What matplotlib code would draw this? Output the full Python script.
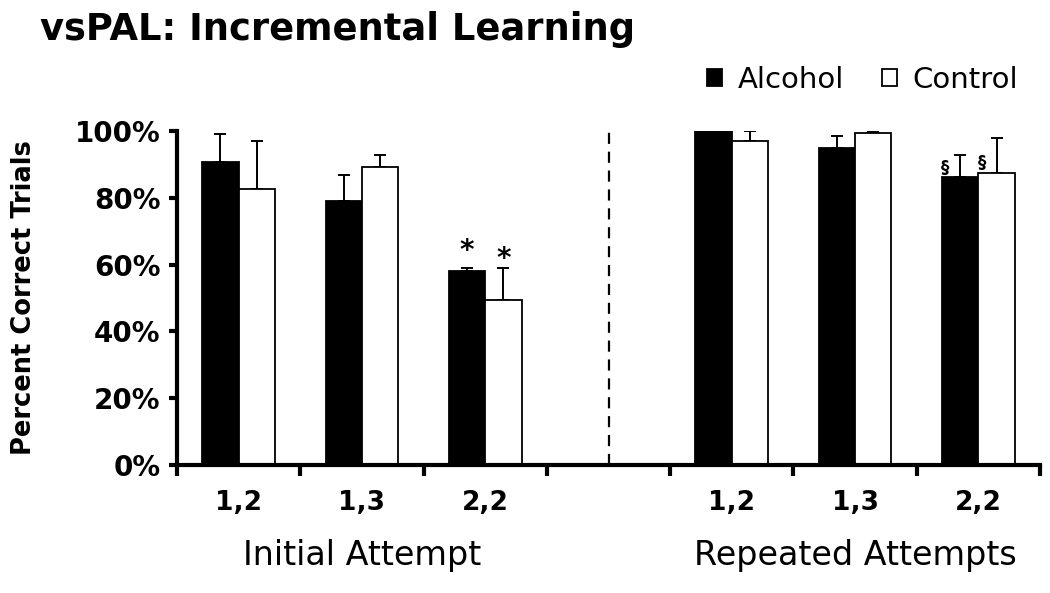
import matplotlib
matplotlib.use("Agg")
import matplotlib.pyplot as plt
import numpy as np

categories = ["1,2", "1,3", "2,2", "", "1,2", "1,3", "2,2"]
cat_pos = [0, 1, 2, 4, 5, 6]
cat_labels = ["1,2", "1,3", "2,2", "1,2", "1,3", "2,2"]
alcohol = [0.908, 0.791, 0.580, 1.000, 0.950, 0.863]
alcohol_err = [0.082, 0.077, 0.011, 0.0, 0.034, 0.065]
control = [0.826, 0.893, 0.493, 0.970, 0.995, 0.873]
control_err = [0.144, 0.035, 0.098, 0.030, 0.003, 0.107]
group_labels = ["Initial Attempt", "Repeated Attempts"]
yticks = [0, 0.2, 0.4, 0.6, 0.8, 1.0]
ytick_labels = ["0%", "20%", "40%", "60%", "80%", "100%"]

fig = plt.figure(figsize=(10.5, 5.93), dpi=100)
ax = fig.add_axes([177/1050, 1-465/593, (1040-177)/1050, (465-131)/593])

x = np.array(cat_pos, dtype=float)
w = 0.295
ax.bar(x - w/2, alcohol, w, color="black", edgecolor="black", linewidth=1.3, label="Alcohol", zorder=2)
ax.bar(x + w/2, control, w, color="white", edgecolor="black", linewidth=1.3, label="Control", zorder=2)
ax.errorbar(x - w/2, alcohol, yerr=[np.zeros(len(x)), alcohol_err], fmt="none",
            ecolor="black", elinewidth=1.4, capsize=4.3, capthick=1.4, zorder=1)
ax.errorbar(x + w/2, control, yerr=[np.zeros(len(x)), control_err], fmt="none",
            ecolor="black", elinewidth=1.4, capsize=4.3, capthick=1.4, zorder=1)

# significance markers
ax.text(2 - w/2, 0.60, "*", ha="center", va="bottom", fontsize=20, fontweight="bold")
ax.text(2 + w/2, 0.575, "*", ha="center", va="bottom", fontsize=20, fontweight="bold")
ax.text(6 - 0.27, 0.89, "§", ha="center", va="center", fontsize=12, fontweight="bold")
ax.text(6 + 0.03, 0.905, "§", ha="center", va="center", fontsize=12, fontweight="bold")

ax.axvline(3, ymin=0, ymax=1.0, color="black", linestyle=(0, (5, 3.5)), linewidth=1.6)

ax.set_xlim(-0.5, 6.5)
ax.set_ylim(0, 1.0)
ax.set_yticks(yticks)
ax.set_yticklabels(ytick_labels, fontsize=20, fontweight="bold")
ax.set_xticks(np.arange(-0.5, 7.0, 1.0))
ax.set_xticklabels([])
ax.set_xticks(x, minor=True)
ax.set_xticklabels(cat_labels, minor=True, fontsize=19, fontweight="bold")
ax.tick_params(axis="x", which="minor", length=0, pad=18)
ax.tick_params(axis="x", which="major", length=8, width=3, direction="out")
ax.tick_params(axis="y", length=6, width=3, direction="out", pad=6)

for s in ["top", "right"]:
    ax.spines[s].set_visible(False)
for s in ["left", "bottom"]:
    ax.spines[s].set_linewidth(3)
ax.spines["left"].set_bounds(0, 1.0)

ax.set_ylabel("Percent Correct Trials", fontsize=18.5, fontweight="bold")
ax.yaxis.set_label_coords(-0.162, 0.5)

# group labels
ax.text(1, -0.27, group_labels[0], transform=ax.get_xaxis_transform(), ha="center", va="center", fontsize=24)
ax.text(5, -0.27, group_labels[1], transform=ax.get_xaxis_transform(), ha="center", va="center", fontsize=24)

fig.text(40/1050, 1-29/593, "vsPAL: Incremental Learning", fontsize=26.6, fontweight="bold", ha="left", va="center")

handles, labels = ax.get_legend_handles_labels()
fig.legend(handles, labels, loc="center right", bbox_to_anchor=(1030/1050, 1-80/593), ncol=2,
           frameon=False, fontsize=21, handlelength=0.5, handleheight=0.5, handletextpad=0.55,
           columnspacing=1.3, borderaxespad=0)

fig.savefig("out.png", dpi=100)
